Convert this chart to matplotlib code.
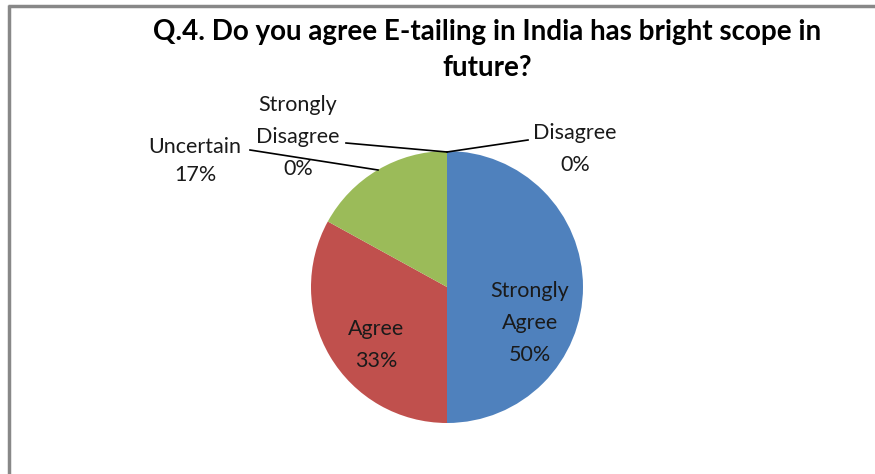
import matplotlib
matplotlib.use("Agg")
import matplotlib.pyplot as plt
from matplotlib.lines import Line2D

plt.rcParams['font.family'] = ['Lato', 'DejaVu Sans']

title = "Q.4. Do you agree E-tailing in India has bright scope in\nfuture?"
categories = ["Strongly Agree", "Agree", "Uncertain", "Strongly Disagree", "Disagree"]
percents = [50, 33, 17, 0, 0]
colors = ["#4F81BD", "#C0504D", "#9BBB59", "#8064A2", "#4BACC6"]

W, H = 875, 474
fig = plt.figure(figsize=(W / 100, H / 100), dpi=100)

# pie centre and radius in pixels
cx, cy, r = 447, 287, 136
ax = fig.add_axes([(cx - r) / W, (H - cy - r) / H, 2 * r / W, 2 * r / H])
ax.pie(percents, colors=colors, startangle=90, counterclock=False, radius=1,
       wedgeprops=dict(linewidth=0))
ax.set_xlim(-1, 1)
ax.set_ylim(-1, 1)
ax.set_aspect("equal")
ax.axis("off")


def px(x, y):
    return (x - cx) / r, (cy - y) / r


def lab(name, pct):
    return name.replace(" ", "\n") + "\n" + f"{pct}%"


txt = dict(ha="center", va="center", fontsize=15.5, color="#1a1a1a",
           clip_on=False)

# inside labels
ax.text(*px(530, 323), lab(categories[0], percents[0]), linespacing=1.75, **txt)
ax.text(*px(376, 345), lab(categories[1], percents[1]), linespacing=1.75, **txt)

# outside labels with leader lines
outside = [
    (2, (195, 161), 1.45, [(250, 150), (378, 170)]),
    (3, (298, 137), 1.75, [(346, 143), (447, 152)]),
    (4, (575, 149), 1.7, [(528, 140), (447, 152)]),
]
for i, (tx, ty), lsp, pts in outside:
    ax.text(*px(tx, ty), lab(categories[i], percents[i]), linespacing=lsp, **txt)
    xs, ys = zip(*[px(*p) for p in pts])
    ax.plot(xs, ys, color="black", lw=1.2, clip_on=False)

fig.text(487 / W, 1 - 50 / H, title, ha="center", va="center", fontsize=20,
         fontweight="bold", linespacing=1.45)

# chart area border (top and left only visible)
fig.add_artist(Line2D([7.5 / W, 1], [1 - 5.5 / H] * 2, color="#888888", lw=2.5,
                      solid_capstyle="butt", transform=fig.transFigure))
fig.add_artist(Line2D([8.5 / W] * 2, [1 - 4.5 / H, 0], color="#888888", lw=2.5,
                      solid_capstyle="butt", transform=fig.transFigure))

fig.savefig("out.png", dpi=100, facecolor="white")
